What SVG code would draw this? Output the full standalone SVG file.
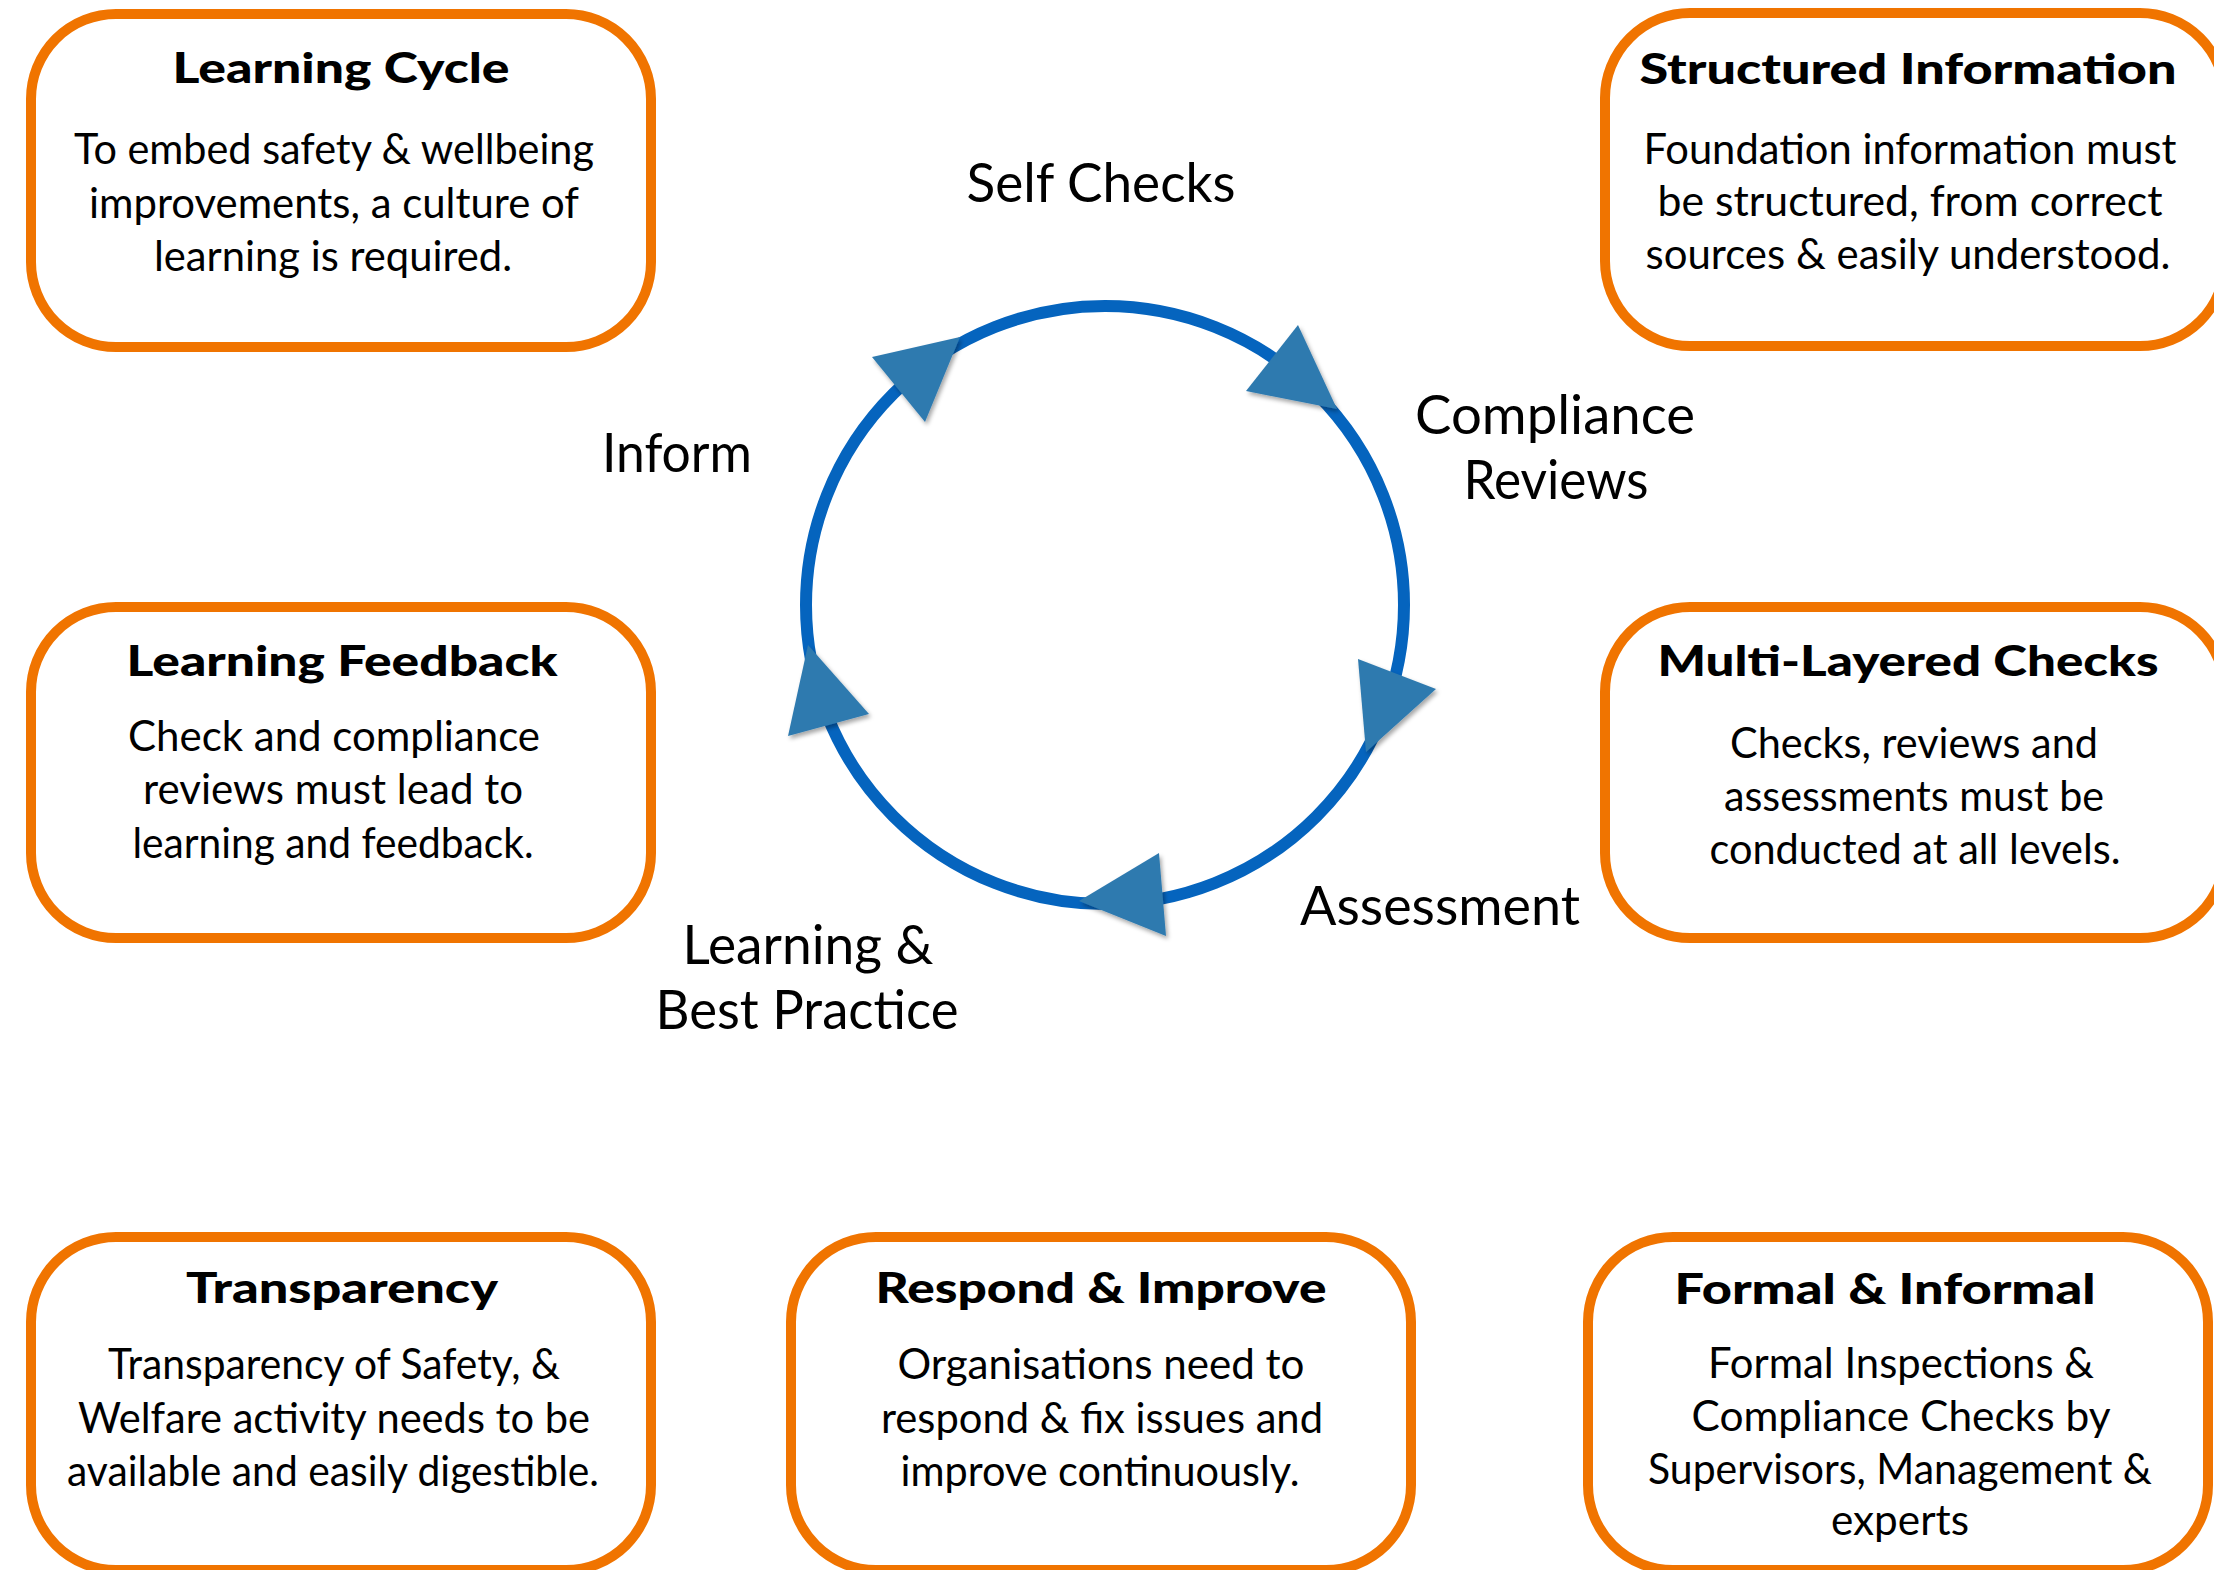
<svg xmlns="http://www.w3.org/2000/svg" width="2214" height="1570" viewBox="0 0 2214 1570">
  <style>
    .box { fill: #ffffff; stroke: #F07400; stroke-width: 10; }
    .title { font-family: "Lato", "Liberation Sans", sans-serif; font-weight: 900; font-size: 42px; fill: #000; text-anchor: middle; }
    .body { font-family: "Lato", "Liberation Sans", sans-serif; font-weight: 400; font-size: 42px; fill: #000; text-anchor: middle; }
    .label { font-family: "Lato", "Liberation Sans", sans-serif; font-weight: 400; font-size: 55px; fill: #000; text-anchor: middle; }
    .ring { fill: none; stroke: #0564BE; stroke-width: 12; }
    .head { fill: #2F7AAF; filter: url(#shadow); }
  </style>
  <defs>
    <filter id="shadow" x="-30%" y="-30%" width="160%" height="160%">
      <feDropShadow dx="2" dy="3" stdDeviation="2" flood-color="#000" flood-opacity="0.35"/>
    </filter>
  </defs>
  <rect width="2214" height="1570" fill="#ffffff"/>

  <g id="connectors">
    <circle class="ring" cx="1105" cy="605" r="299"/>
    <polygon class="head" points="872,357 960,337 925,422"/>
    <polygon class="head" points="1246,391 1298,325 1337,409"/>
    <polygon class="head" points="1358,659 1436,689 1366,752"/>
    <polygon class="head" points="1079,901 1159,853 1166,936"/>
    <polygon class="head" points="808,645 869,714 788,736"/>
  </g>

  <g id="label-self-checks"><text class="label" x="1101" y="202" textLength="269" lengthAdjust="spacingAndGlyphs">Self Checks</text></g>
  <g id="label-inform"><text class="label" x="677" y="472" textLength="150" lengthAdjust="spacingAndGlyphs">Inform</text></g>
  <g id="label-compliance-reviews">
    <text class="label" x="1555" y="434" textLength="280" lengthAdjust="spacingAndGlyphs">Compliance</text>
    <text class="label" x="1556" y="499" textLength="185" lengthAdjust="spacingAndGlyphs">Reviews</text>
  </g>
  <g id="label-assessment"><text class="label" x="1440" y="925" textLength="280" lengthAdjust="spacingAndGlyphs">Assessment</text></g>
  <g id="label-learning-best-practice">
    <text class="label" x="808" y="964" textLength="251" lengthAdjust="spacingAndGlyphs">Learning &amp;</text>
    <text class="label" x="807" y="1029" textLength="303" lengthAdjust="spacingAndGlyphs">Best Practice</text>
  </g>

  <g id="node-learning-cycle">
    <rect class="box" x="31" y="14" width="620" height="333" rx="85" ry="85"/>
    <text class="title" x="341" y="83" textLength="337" lengthAdjust="spacingAndGlyphs">Learning Cycle</text>
    <text class="body" x="334" y="164" textLength="520" lengthAdjust="spacingAndGlyphs">To embed safety &amp; wellbeing</text>
    <text class="body" x="334" y="218" textLength="490" lengthAdjust="spacingAndGlyphs">improvements, a culture of</text>
    <text class="body" x="333" y="271" textLength="358" lengthAdjust="spacingAndGlyphs">learning is required.</text>
  </g>

  <g id="node-structured-information">
    <rect class="box" x="1605" y="13" width="620" height="333" rx="85" ry="85"/>
    <text class="title" x="1908" y="84" textLength="537" lengthAdjust="spacingAndGlyphs">Structured Information</text>
    <text class="body" x="1910" y="164" textLength="533" lengthAdjust="spacingAndGlyphs">Foundation information must</text>
    <text class="body" x="1910" y="216" textLength="505" lengthAdjust="spacingAndGlyphs">be structured, from correct</text>
    <text class="body" x="1908" y="269" textLength="525" lengthAdjust="spacingAndGlyphs">sources &amp; easily understood.</text>
  </g>

  <g id="node-learning-feedback">
    <rect class="box" x="31" y="607" width="620" height="331" rx="85" ry="85"/>
    <text class="title" x="342" y="676" textLength="431" lengthAdjust="spacingAndGlyphs">Learning Feedback</text>
    <text class="body" x="334" y="751" textLength="412" lengthAdjust="spacingAndGlyphs">Check and compliance</text>
    <text class="body" x="333" y="804" textLength="380" lengthAdjust="spacingAndGlyphs">reviews must lead to</text>
    <text class="body" x="333" y="858" textLength="401" lengthAdjust="spacingAndGlyphs">learning and feedback.</text>
  </g>

  <g id="node-multi-layered-checks">
    <rect class="box" x="1605" y="607" width="620" height="331" rx="85" ry="85"/>
    <text class="title" x="1908" y="676" textLength="501" lengthAdjust="spacingAndGlyphs">Multi-Layered Checks</text>
    <text class="body" x="1914" y="758" textLength="368" lengthAdjust="spacingAndGlyphs">Checks, reviews and</text>
    <text class="body" x="1914" y="811" textLength="380" lengthAdjust="spacingAndGlyphs">assessments must be</text>
    <text class="body" x="1915" y="864" textLength="411" lengthAdjust="spacingAndGlyphs">conducted at all levels.</text>
  </g>

  <g id="node-transparency">
    <rect class="box" x="31" y="1237" width="620" height="333" rx="85" ry="85"/>
    <text class="title" x="342" y="1303" textLength="312" lengthAdjust="spacingAndGlyphs">Transparency</text>
    <text class="body" x="334" y="1379" textLength="452" lengthAdjust="spacingAndGlyphs">Transparency of Safety, &amp;</text>
    <text class="body" x="334" y="1433" textLength="512" lengthAdjust="spacingAndGlyphs">Welfare activity needs to be</text>
    <text class="body" x="333" y="1486" textLength="532" lengthAdjust="spacingAndGlyphs">available and easily digestible.</text>
  </g>

  <g id="node-respond-improve">
    <rect class="box" x="791" y="1237" width="620" height="333" rx="85" ry="85"/>
    <text class="title" x="1101" y="1303" textLength="451" lengthAdjust="spacingAndGlyphs">Respond &amp; Improve</text>
    <text class="body" x="1101" y="1379" textLength="407" lengthAdjust="spacingAndGlyphs">Organisations need to</text>
    <text class="body" x="1102" y="1433" textLength="442" lengthAdjust="spacingAndGlyphs">respond &amp; fix issues and</text>
    <text class="body" x="1100" y="1486" textLength="399" lengthAdjust="spacingAndGlyphs">improve continuously.</text>
  </g>

  <g id="node-formal-informal">
    <rect class="box" x="1588" y="1237" width="620" height="333" rx="85" ry="85"/>
    <text class="title" x="1885" y="1304" textLength="421" lengthAdjust="spacingAndGlyphs">Formal &amp; Informal</text>
    <text class="body" x="1901" y="1378" textLength="386" lengthAdjust="spacingAndGlyphs">Formal Inspections &amp;</text>
    <text class="body" x="1901" y="1431" textLength="419" lengthAdjust="spacingAndGlyphs">Compliance Checks by</text>
    <text class="body" x="1900" y="1484" textLength="504" lengthAdjust="spacingAndGlyphs">Supervisors, Management &amp;</text>
    <text class="body" x="1900" y="1535" textLength="138" lengthAdjust="spacingAndGlyphs">experts</text>
  </g>
</svg>
